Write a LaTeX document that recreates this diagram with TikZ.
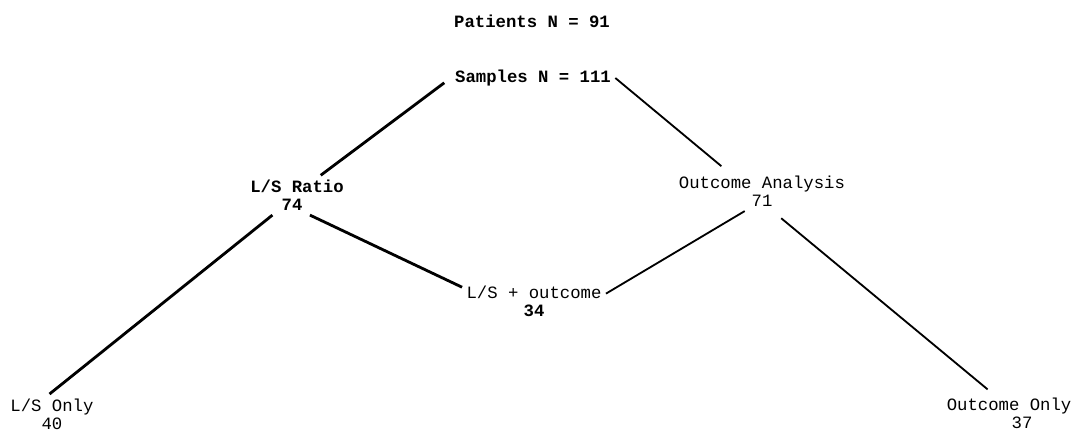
\documentclass[tikz,border=0pt]{standalone}
\usepackage{fontspec}
\setmainfont{Liberation Mono}
\usepackage{tikz}
\usetikzlibrary{positioning}

\begin{document}
\begin{tikzpicture}[
    label/.style={inner sep=3pt, align=center, font=\fontsize{12.3}{13}\selectfont},
    boldlabel/.style={label, font=\fontsize{12.3}{13}\selectfont\bfseries},
    thickline/.style={line width=2pt},
    thinline/.style={line width=1.3pt},
]
\useasboundingbox (0,0) rectangle (26.85,-10.775);

% Top labels
\node[boldlabel] (patients) at (13.3,-0.53) {Patients N = 91};
\node[boldlabel] (samples) at (13.325,-1.95) {Samples N = 111};

% Second level
\node[boldlabel] (ratio) at (7.425,-4.88) {L/S Ratio\\74\hspace*{0.25cm}};
\node[label] (outcome) at (19.05,-4.78) {Outcome Analysis\\71};

% Middle
\node[label] (both) at (13.35,-7.53) {L/S + outcome\\\textbf{34}};

% Bottom leaves
\node[label] (lsonly) at (1.3,-10.35) {L/S Only\\40};
\node[label] (outonly) at (25.225,-10.33) {Outcome Only\\\hspace*{0.65cm}37};

% Connections
\draw[thickline, shorten <=0.2cm] (samples.west) -- (ratio.40);
\draw[thinline, shorten >=0.2cm] (samples.east) -- (outcome.150);
\draw[thickline] (ratio.219) -- (lsonly.97);
\draw[thickline] (ratio.-57) -- (both.169);
\draw[thinline] (outcome.-131) -- (both.6);
\draw[thinline, shorten <=0.28cm, shorten >=0.15cm] (outcome.-62) -- (outonly.130);

\end{tikzpicture}
\end{document}
